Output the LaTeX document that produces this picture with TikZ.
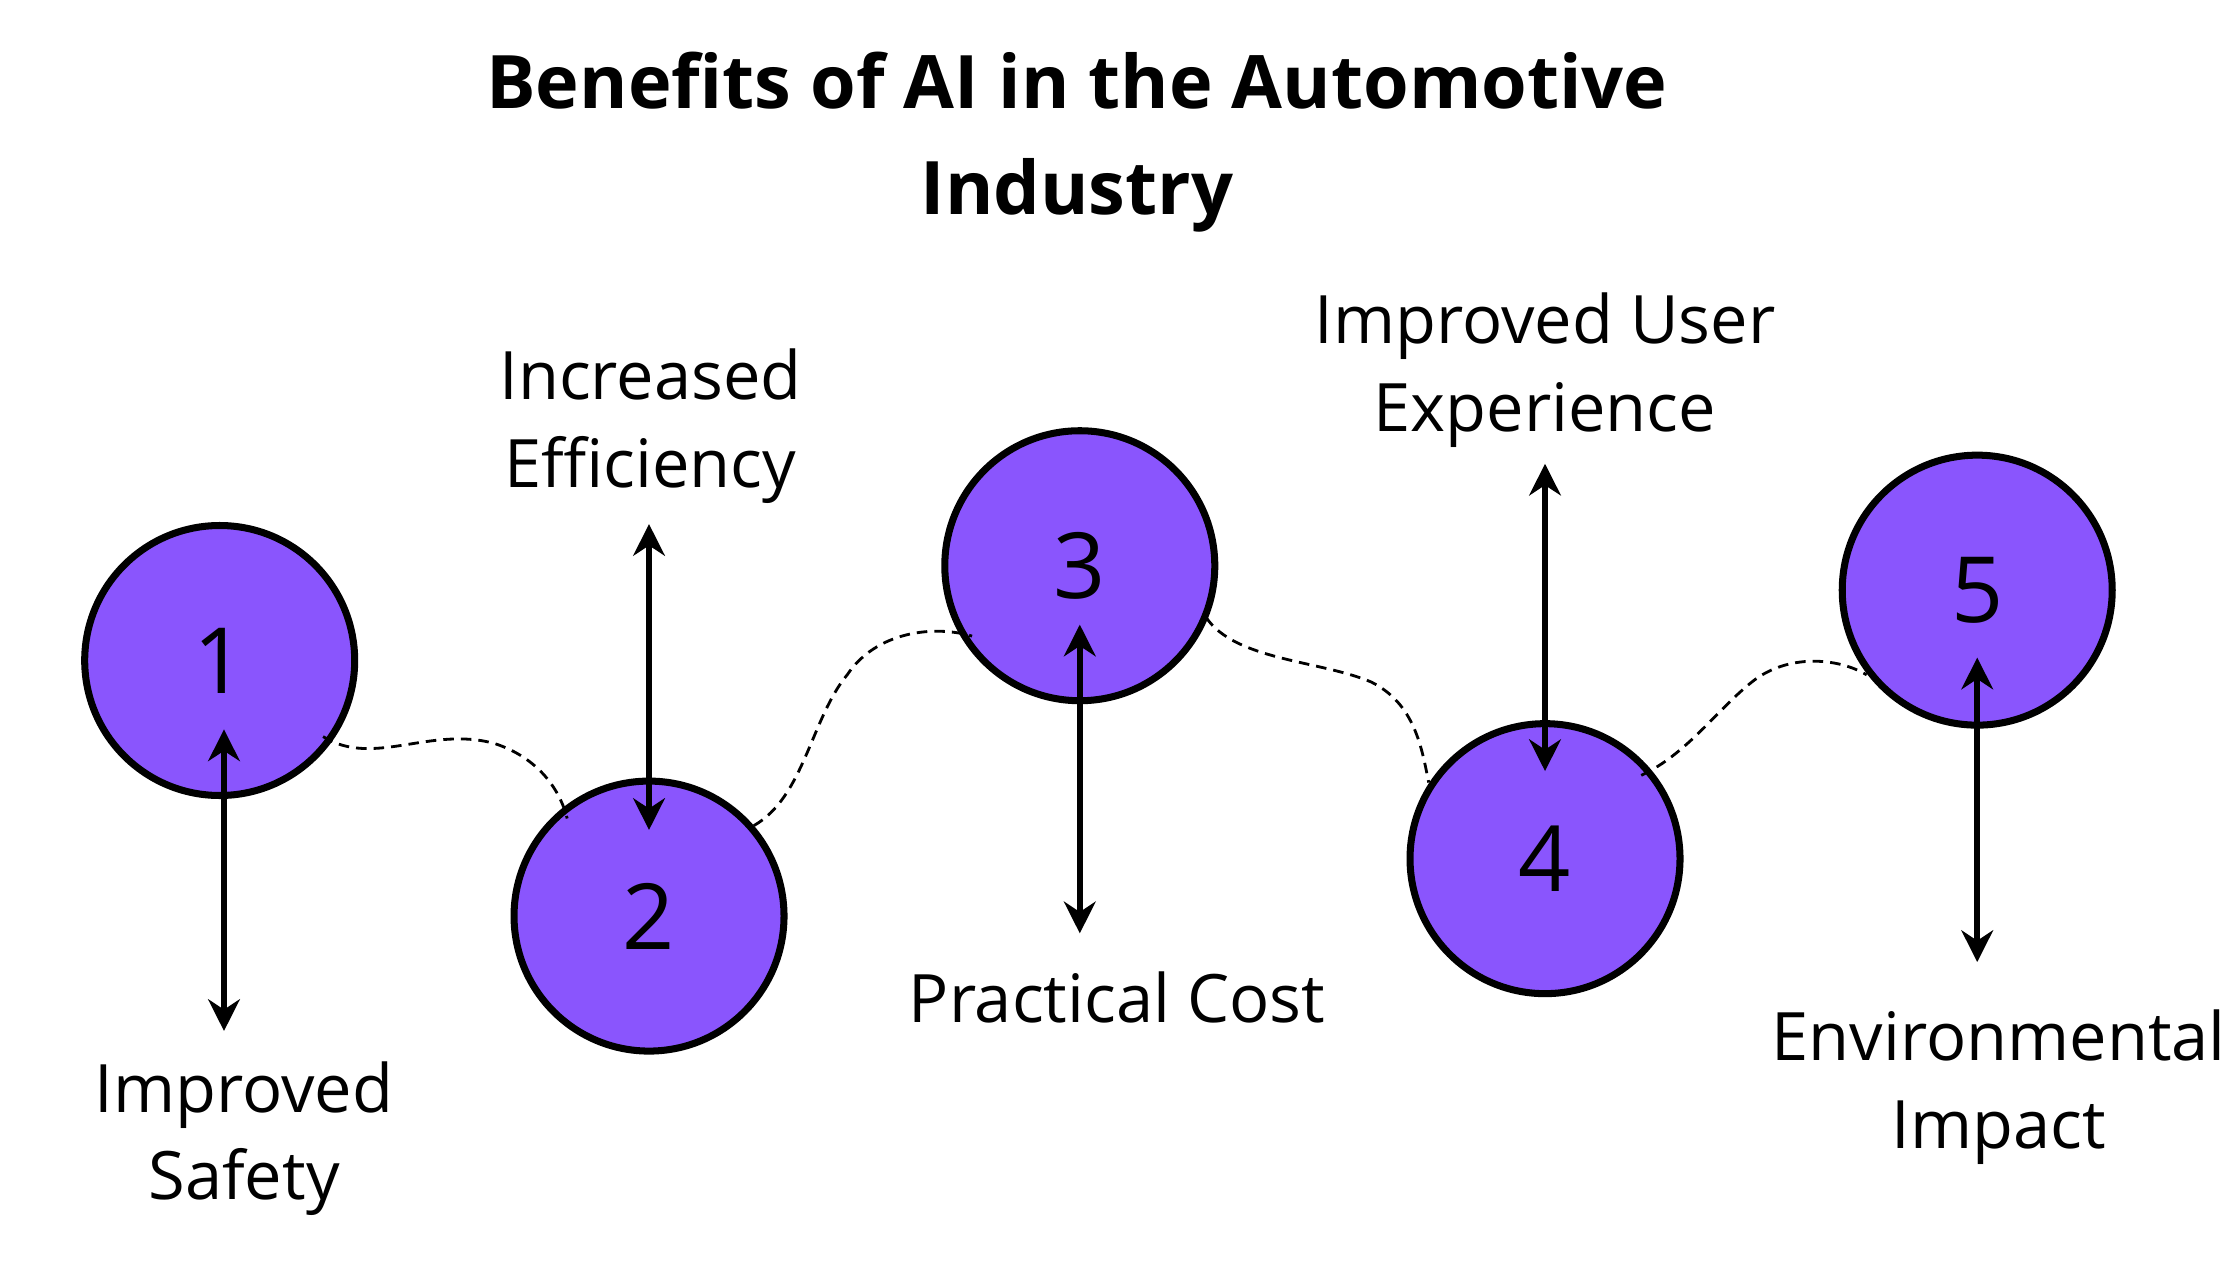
\documentclass[tikz,border=0pt]{standalone}
\usepackage{fontspec}
\setmainfont{Open Sans}
\usetikzlibrary{arrows.meta}
\definecolor{stepviolet}{HTML}{8A55FD}
\tikzstyle{stepdot} = [circle, draw=black, line width=2pt, fill=stepviolet,
    minimum size=2.7cm, inner sep=0pt, font=\fontsize{26}{26}\selectfont]
\tikzstyle{benefit} = [align=center, font=\fontsize{19}{25}\selectfont]
\tikzstyle{updown} = [{Stealth[length=9pt,width=9pt]}-{Stealth[length=9pt,width=9pt]}, line width=1.6pt]
\tikzstyle{wave} = [dashed, dash pattern=on 3pt off 2pt, line width=0.8pt]

\begin{document}
\begin{tikzpicture}[x=0.1436mm,y=-0.1436mm]
  \useasboundingbox (0,0) rectangle (1560,878);

  \node[font=\fontsize{21}{30}\selectfont\bfseries, align=center] (title) at (750,99)
    {Benefits of AI in the Automotive\\Industry};

  \node[stepdot] (c1) at (153,460) {1};
  \node[stepdot] (c2) at (452,638) {2};
  \node[stepdot] (c3) at (752,394) {3};
  \node[stepdot] (c4) at (1076,598) {4};
  \node[stepdot] (c5) at (1377,411) {5};

  \node[benefit] (l1) at (170,793) {Improved\\Safety};
  \node[benefit] (l2) at (453,297) {Increased\\Efficiency};
  \node[benefit] (l3) at (778,695) {Practical Cost};
  \node[benefit] (l4) at (1076,258) {Improved User\\Experience};
  \node[benefit] (l5) at (1392,757) {Environmental\\Impact};

  \coordinate (a1) at (156,508); \coordinate (b1) at (156,718);
  \coordinate (a2) at (452,365); \coordinate (b2) at (452,578);
  \coordinate (a3) at (752,435); \coordinate (b3) at (752,650);
  \coordinate (a4) at (1076,323); \coordinate (b4) at (1076,537);
  \coordinate (a5) at (1377,458); \coordinate (b5) at (1377,670);
  \foreach \i in {1,...,5}
    \draw[updown] (a\i) -- (b\i);

  % wavy links
  \draw[wave] (225,513) .. controls (260,535) and (300,505) .. (345,518)
              .. controls (375,528) and (390,550) .. (395,570);
  \draw[wave] (525,575) .. controls (560,555) and (565,500) .. (590,470)
              .. controls (610,440) and (650,435) .. (677,443);
  \draw[wave] (840,430) .. controls (860,460) and (920,460) .. (955,475)
              .. controls (985,490) and (990,520) .. (995,545);
  \draw[wave] (1143,540) .. controls (1175,525) and (1195,495) .. (1220,475)
              .. controls (1245,455) and (1280,458) .. (1300,470);
\end{tikzpicture}
\end{document}
